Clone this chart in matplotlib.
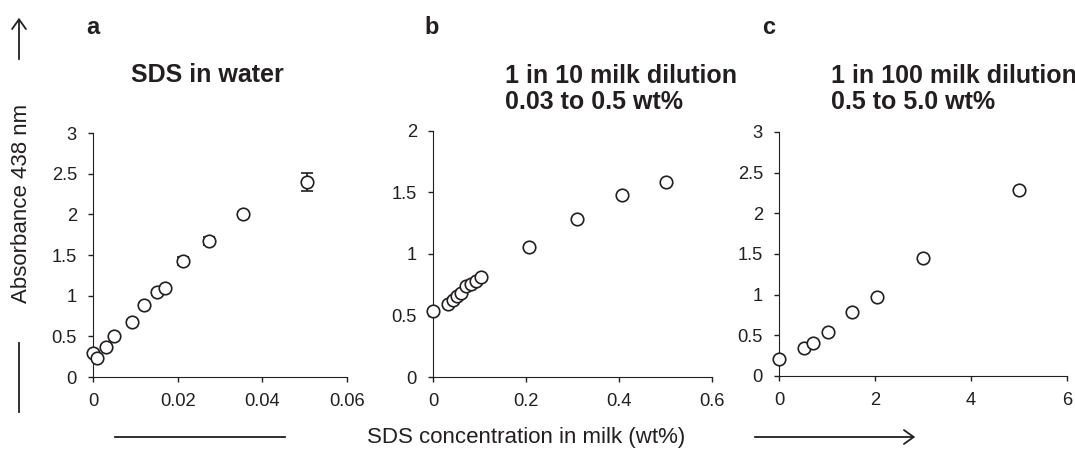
import matplotlib.pyplot as plt
import numpy as np

plt.rcParams['font.family'] = ['Liberation Sans', 'DejaVu Sans']

ink = '#231f20'

# panel a: SDS in water
xa = [0, 0.001, 0.003, 0.005, 0.0092, 0.0121, 0.0152, 0.0171, 0.0212, 0.0274, 0.0354, 0.0506]
ya = [0.29, 0.23, 0.375, 0.50, 0.68, 0.885, 1.04, 1.10, 1.43, 1.67, 2.01, 2.40]
ea = [0.02, 0.02, 0.02, 0.02, 0.02, 0.02, 0.03, 0.02, 0.05, 0.05, 0.02, 0.11]

# panel b: 1 in 10 milk dilution
xb = [0, 0.033, 0.042, 0.051, 0.060, 0.071, 0.081, 0.092, 0.1025, 0.207, 0.310, 0.406, 0.501]
yb = [0.535, 0.59, 0.625, 0.655, 0.685, 0.74, 0.76, 0.78, 0.815, 1.06, 1.285, 1.48, 1.585]

# panel c: 1 in 100 milk dilution
xc = [0, 0.515, 0.715, 1.02, 1.53, 2.04, 2.99, 5.0]
yc = [0.205, 0.345, 0.405, 0.535, 0.785, 0.97, 1.455, 2.29]

fig = plt.figure(figsize=(10.75, 4.49), dpi=100)

W, H = 1075.0, 449.0
def box(l, r, t, b):
    return [l / W, 1 - b / H, (r - l) / W, (b - t) / H]

ax_a = fig.add_axes(box(93, 347, 133, 377))
ax_b = fig.add_axes(box(433, 712, 131, 377))
ax_c = fig.add_axes(box(779, 1067, 132, 376))

mk = dict(marker='o', ms=9, mfc='white', mec=ink, mew=1.2, ls='none', zorder=3, clip_on=False)

ax_a.errorbar(xa, ya, yerr=ea, ecolor=ink, elinewidth=1.2, capsize=4, capthick=1.2, **mk)
ax_b.plot(xb, yb, **mk)
ax_c.plot(xc, yc, **mk)

ax_a.set_xlim(0, 0.06)
ax_a.set_ylim(0, 3)
ax_a.set_xticks([0, 0.02, 0.04, 0.06])
ax_a.set_xticklabels(['0', '0.02', '0.04', '0.06'])
ax_a.set_yticks([0, 0.5, 1, 1.5, 2, 2.5, 3])
ax_a.set_yticklabels(['0', '0.5', '1', '1.5', '2', '2.5', '3'])

ax_b.set_xlim(0, 0.6)
ax_b.set_ylim(0, 2)
ax_b.set_xticks([0, 0.2, 0.4, 0.6])
ax_b.set_xticklabels(['0', '0.2', '0.4', '0.6'])
ax_b.set_yticks([0, 0.5, 1, 1.5, 2])
ax_b.set_yticklabels(['0', '0.5', '1', '1.5', '2'])

ax_c.set_xlim(0, 6)
ax_c.set_ylim(0, 3)
ax_c.set_xticks([0, 2, 4, 6])
ax_c.set_yticks([0, 0.5, 1, 1.5, 2, 2.5, 3])
ax_c.set_yticklabels(['0', '0.5', '1', '1.5', '2', '2.5', '3'])

for ax in [ax_a, ax_b, ax_c]:
    ax.spines['top'].set_visible(False)
    ax.spines['right'].set_visible(False)
    ax.spines['left'].set_color(ink)
    ax.spines['bottom'].set_color(ink)
    ax.tick_params(direction='out', length=3.6, width=1, color=ink,
                   labelsize=13.2, labelcolor=ink, pad=8)
    ax.set_facecolor('none')

# panel letters and titles
fig.text(93 / W, 1 - 28 / H, 'a', fontsize=17, fontweight='bold', color=ink, ha='center', va='center')
fig.text(432 / W, 1 - 28 / H, 'b', fontsize=17, fontweight='bold', color=ink, ha='center', va='center')
fig.text(769 / W, 1 - 28 / H, 'c', fontsize=17, fontweight='bold', color=ink, ha='center', va='center')

fig.text(207 / W, 1 - 75 / H, 'SDS in water', fontsize=18, fontweight='bold', color=ink, ha='center', va='center')
fig.text(505 / W, 1 - 89 / H, '1 in 10 milk dilution\n0.03 to 0.5 wt%', fontsize=18, fontweight='bold',
         color=ink, ha='left', va='center', linespacing=1.15)
fig.text(831 / W, 1 - 89 / H, '1 in 100 milk dilution\n0.5 to 5.0 wt%', fontsize=18, fontweight='bold',
         color=ink, ha='left', va='center', linespacing=1.15)

# axis labels with arrows
fig.text(22 / W, 1 - 203 / H, 'Absorbance 438 nm', fontsize=16, color=ink, rotation=90, ha='center', va='center')
fig.text(526 / W, 1 - 438 / H, 'SDS concentration in milk (wt%)', fontsize=16, color=ink, ha='center', va='center')

fig.add_artist(plt.Line2D([19 / W, 19 / W], [1 - 343 / H, 1 - 412 / H], color=ink, lw=1.3))
fig.add_artist(plt.Line2D([115 / W, 285 / W], [1 - 437 / H, 1 - 437 / H], color=ink, lw=1.3))
fig.patches.append(plt.matplotlib.patches.FancyArrowPatch(
    (19 / W, 1 - 62 / H), (19 / W, 1 - 15 / H), transform=fig.transFigure,
    arrowstyle='->,head_length=7,head_width=5', color=ink, lw=1.3, mutation_scale=1))
fig.patches.append(plt.matplotlib.patches.FancyArrowPatch(
    (752 / W, 1 - 437 / H), (918 / W, 1 - 437 / H), transform=fig.transFigure,
    arrowstyle='->,head_length=7,head_width=5', color=ink, lw=1.3, mutation_scale=1))

fig.savefig('out.png', dpi=100, facecolor='white')
